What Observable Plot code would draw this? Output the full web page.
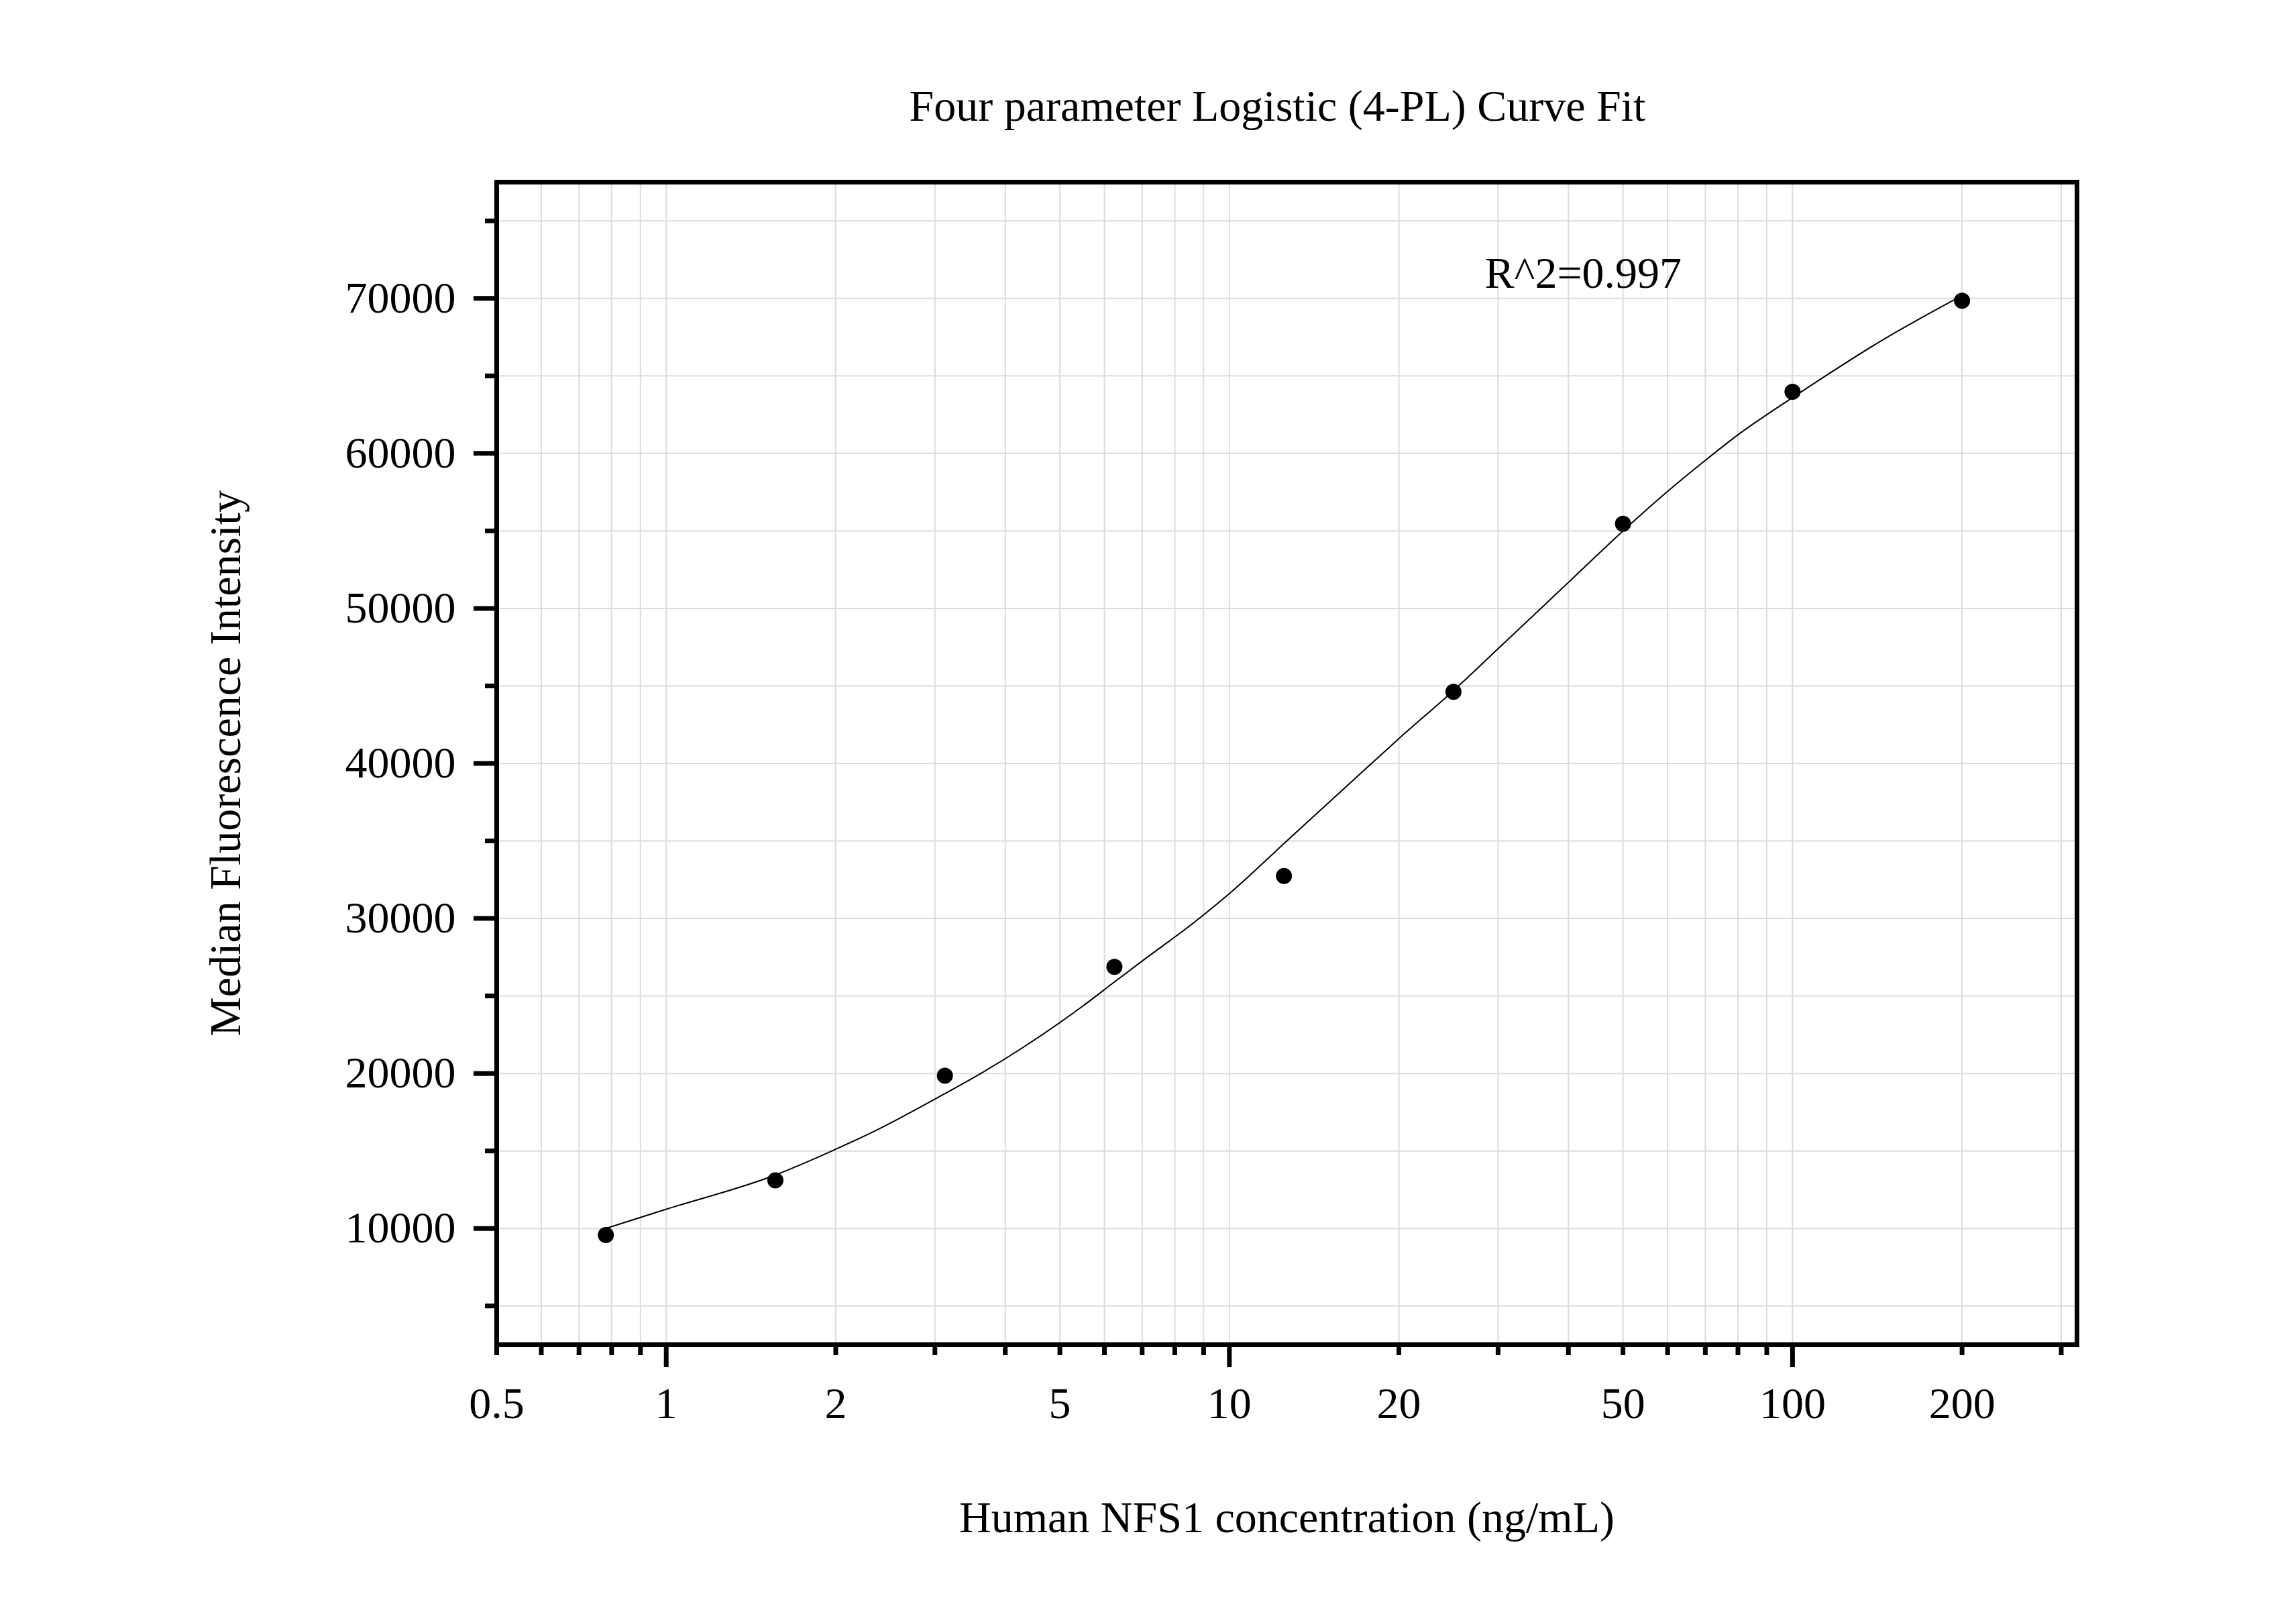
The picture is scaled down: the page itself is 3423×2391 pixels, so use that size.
<!DOCTYPE html>
<html>
<head>
<meta charset="utf-8">
<script src="https://cdn.jsdelivr.net/npm/d3@7"></script>
<script src="https://cdn.jsdelivr.net/npm/@observablehq/plot@0.6"></script>
<style>
  html, body { margin: 0; padding: 0; background: #fff; overflow: hidden; }
</style>
</head>
<body>
<div id="chart"></div>
<script>
// ---- data ----
const concentrations = [0.78125, 1.5625, 3.125, 6.25, 12.5, 25, 50, 100, 200];
const mfi = [9580, 13100, 19850, 26875, 32735, 44620, 55460, 63980, 69850];

// fitted 4-PL curve
const curveConc = [0.78125, 1, 1.5625, 1.955, 2.38, 3.125, 3.62, 5.47, 6.25, 7, 8.84, 10, 12.65, 17.76, 20, 25, 30, 36.1, 40, 50, 60, 70, 80, 100, 113, 142, 200];
const curveMfi  = [10000, 11240, 13450, 14950, 16400, 18700, 20000, 24300, 25900, 27250, 30000, 31600, 35000, 39900, 41600, 44700, 47400, 50150, 51680, 55000, 57550, 59550, 61200, 63600, 64870, 67150, 70180];

const xLabelTicks = [0.5, 1, 2, 5, 10, 20, 50, 100, 200];
const xMajorTicks = [1, 10, 100];
const xMinorTicks = [0.5, 0.6, 0.7, 0.8, 0.9, 2, 3, 4, 5, 6, 7, 8, 9, 20, 30, 40, 50, 60, 70, 80, 90, 200, 300];
const xGridTicks = [0.6, 0.7, 0.8, 0.9, 1, 2, 3, 4, 5, 6, 7, 8, 9, 10, 20, 30, 40, 50, 60, 70, 80, 90, 100, 200, 300];
const yMajorTicks = [10000, 20000, 30000, 40000, 50000, 60000, 70000];
const yMinorTicks = [5000, 15000, 25000, 35000, 45000, 55000, 65000, 75000];
const yGridTicks = [5000, 10000, 15000, 20000, 25000, 30000, 35000, 40000, 45000, 50000, 55000, 60000, 65000, 70000, 75000];

const titleText = "Four parameter Logistic (4-PL) Curve Fit";
const xLabelText = "Human NFS1 concentration (ng/mL)";
const yLabelText = "Median Fluorescence Intensity";
const annotation = [{x: 28.4, y: 70700, text: "R^2=0.997"}];

const points = concentrations.map((c, i) => ({c, v: mfi[i]}));
const curve = curveConc.map((c, i) => ({c, v: curveMfi[i]}));

const W = 3423, H = 2391;
const mL = 740, mR = 327, mT = 271, mB = 387;
const plotW = W - mL - mR, plotH = H - mT - mB;
const FS = 66;
const gridColor = "#dcdcdc";
const TW = 7; // tick / frame thickness

const chart = Plot.plot({
  width: W,
  height: H,
  marginLeft: mL,
  marginRight: mR,
  marginTop: mT,
  marginBottom: mB,
  style: {fontFamily: "'Liberation Serif', 'Times New Roman', serif", fontSize: FS + "px", background: "#fff", color: "#000"},
  x: {type: "log", domain: [0.5, 320]},
  y: {domain: [2500, 77500]},
  marks: [
    Plot.gridX(xGridTicks, {stroke: gridColor, strokeOpacity: 1, strokeWidth: 2}),
    Plot.gridY(yGridTicks, {stroke: gridColor, strokeOpacity: 1, strokeWidth: 2}),
    // bottom ticks (outward)
    Plot.ruleX(xMinorTicks, {x: d => d, insetTop: plotH, insetBottom: -16, stroke: "#000", strokeWidth: TW}),
    Plot.ruleX(xMajorTicks, {x: d => d, insetTop: plotH, insetBottom: -34, stroke: "#000", strokeWidth: TW}),
    // left ticks (outward)
    Plot.ruleY(yMinorTicks, {y: d => d, insetLeft: -17, insetRight: plotW, stroke: "#000", strokeWidth: TW}),
    Plot.ruleY(yMajorTicks, {y: d => d, insetLeft: -34, insetRight: plotW, stroke: "#000", strokeWidth: TW}),
    // tick labels
    Plot.axisX(xLabelTicks, {anchor: "bottom", tickSize: 0, tickPadding: 63, fontSize: FS, tickFormat: d => String(d), label: null}),
    Plot.axisY(yMajorTicks, {anchor: "left", tickSize: 0, tickPadding: 61, fontSize: FS, tickFormat: d => String(d), label: null}),
    Plot.line(curve, {x: "c", y: "v", stroke: "#000", strokeWidth: 2, curve: "monotone-x"}),
    Plot.dot(points, {x: "c", y: "v", r: 12, fill: "#000", stroke: "none"}),
    Plot.text(annotation, {x: "x", y: "y", text: "text", textAnchor: "start", lineAnchor: "bottom", fontSize: FS, fill: "#000"}),
    Plot.text([titleText], {frameAnchor: "top", dy: -92, dx: -14, textAnchor: "middle", lineAnchor: "bottom", text: d => d, fontSize: FS, fill: "#000"}),
    Plot.text([xLabelText], {frameAnchor: "bottom", dy: 279, textAnchor: "middle", lineAnchor: "bottom", text: d => d, fontSize: FS, fill: "#000"}),
    Plot.text([yLabelText], {frameAnchor: "left", dx: -383, rotate: -90, textAnchor: "middle", lineAnchor: "bottom", text: d => d, fontSize: FS, fill: "#000"}),
    Plot.frame({stroke: "#000", strokeWidth: TW})
  ]
});
document.getElementById("chart").appendChild(chart);
</script>
</body>
</html>
